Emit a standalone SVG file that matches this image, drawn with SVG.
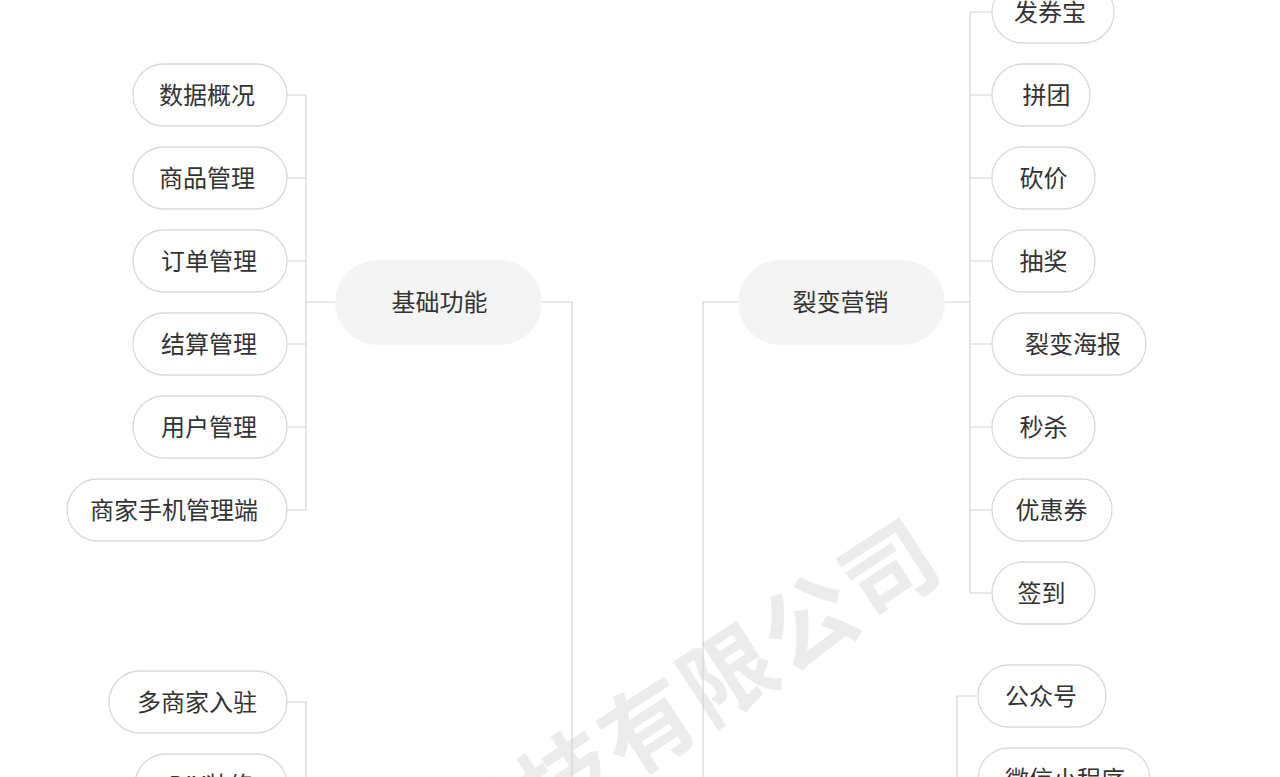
<svg xmlns="http://www.w3.org/2000/svg" width="1280" height="777" viewBox="0 0 1280 777">
<style>
.n rect{fill:#ffffff;stroke:#dadada;stroke-width:1.3}
.m rect{fill:#f4f4f4;stroke:none}
text{font-family:"Noto Sans CJK SC","Noto Sans",sans-serif;font-size:24px;fill:#333333;text-anchor:middle;dominant-baseline:central}
.n text,.m text{transform:translateY(-2px)}
.c path{fill:none;stroke:#d4d4d4;stroke-width:1.2}
.wm{font-size:92px;font-weight:bold;fill:#ececec;letter-spacing:4px}
</style>
<rect width="1280" height="777" fill="#ffffff"/>
<g id="watermark" transform="translate(686,694) rotate(-33)">
<text class="wm" x="0" y="0">科技有限公司</text>
</g>
<g class="c" id="connectors">
<path d="M287 95H306V510M287 178H306M287 261H306M287 344H306M287 427H306M287 510H306M306 302H335"/>
<path d="M542 302H572V777"/>
<path d="M738 302H703V777"/>
<path d="M945 302H970M970 12V593M970 12H992M970 95H992M970 178H992M970 261H992M970 344H992M970 427H992M970 510H992M970 593H992"/>
<path d="M287 702H306V777"/>
<path d="M978 696H957V777"/>
</g>
<g class="m" id="n-jichu"><rect x="335" y="260" width="207" height="85" rx="42.5"/><text x="439.5" y="302">基础功能</text></g>
<g class="m" id="n-liebian"><rect x="738" y="260" width="207" height="85" rx="42.5"/><text x="840.5" y="302">裂变营销</text></g>
<g class="n" id="n-shuju"><rect x="133" y="64" width="154" height="62" rx="31"/><text x="207" y="95">数据概况</text></g>
<g class="n" id="n-shangpin"><rect x="133" y="147" width="154" height="62" rx="31"/><text x="207" y="178">商品管理</text></g>
<g class="n" id="n-dingdan"><rect x="133" y="230" width="154" height="62" rx="31"/><text x="209" y="261">订单管理</text></g>
<g class="n" id="n-jiesuan"><rect x="133" y="313" width="154" height="62" rx="31"/><text x="209" y="344">结算管理</text></g>
<g class="n" id="n-yonghu"><rect x="133" y="396" width="154" height="62" rx="31"/><text x="209" y="427">用户管理</text></g>
<g class="n" id="n-shangjia"><rect x="67" y="479" width="220" height="62" rx="31"/><text x="174" y="510">商家手机管理端</text></g>
<g class="n" id="n-duoshangjia"><rect x="109" y="671" width="178" height="62" rx="31"/><text x="197" y="702">多商家入驻</text></g>
<g class="n" id="n-diy"><rect x="135" y="754" width="152" height="62" rx="31"/><text x="211" y="785">DIY装修</text></g>
<g class="n" id="n-faquanbao"><rect x="992" y="-19" width="122" height="62" rx="31"/><text x="1050" y="12">发券宝</text></g>
<g class="n" id="n-pintuan"><rect x="992" y="64" width="98" height="62" rx="31"/><text x="1046.5" y="95">拼团</text></g>
<g class="n" id="n-kanjia"><rect x="992" y="147" width="103" height="62" rx="31"/><text x="1043.5" y="178">砍价</text></g>
<g class="n" id="n-choujiang"><rect x="992" y="230" width="103" height="62" rx="31"/><text x="1043.5" y="261">抽奖</text></g>
<g class="n" id="n-haibao"><rect x="992" y="313" width="154" height="62" rx="31"/><text x="1073" y="344">裂变海报</text></g>
<g class="n" id="n-miaosha"><rect x="992" y="396" width="103" height="62" rx="31"/><text x="1043.5" y="427">秒杀</text></g>
<g class="n" id="n-youhuiquan"><rect x="992" y="479" width="120" height="62" rx="31"/><text x="1051.5" y="510">优惠券</text></g>
<g class="n" id="n-qiandao"><rect x="992" y="562" width="103" height="62" rx="31"/><text x="1041.5" y="593">签到</text></g>
<g class="n" id="n-gongzhonghao"><rect x="978" y="665" width="128" height="62" rx="31"/><text x="1041" y="696">公众号</text></g>
<g class="n" id="n-xiaochengxu"><rect x="978" y="748" width="172" height="62" rx="31"/><text x="1065" y="779">微信小程序</text></g>
</svg>
